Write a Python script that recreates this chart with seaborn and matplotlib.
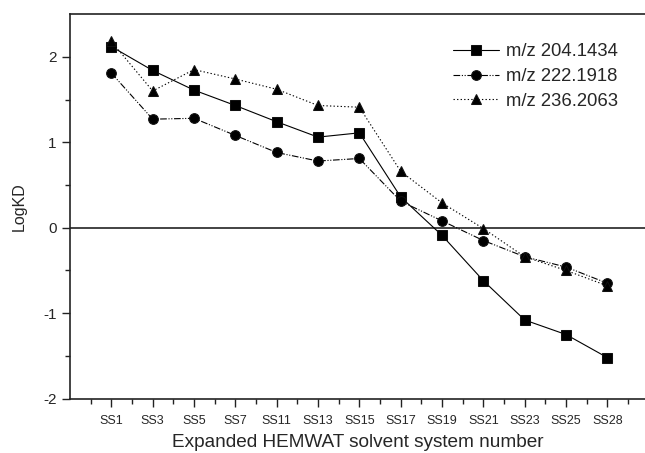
import seaborn as sns
import matplotlib.pyplot as plt
import pandas as pd

# Data
systems = ['SS1', 'SS3', 'SS5', 'SS7', 'SS11', 'SS13', 'SS15',
           'SS17', 'SS19', 'SS21', 'SS23', 'SS25', 'SS28']
mz204 = [2.12, 1.84, 1.61, 1.43, 1.24, 1.06, 1.11, 0.36, -0.09, -0.62, -1.08, -1.25, -1.52]
mz222 = [1.81, 1.27, 1.28, 1.08, 0.88, 0.78, 0.81, 0.31, 0.08, -0.15, -0.34, -0.46, -0.65]
mz236 = [2.18, 1.60, 1.85, 1.74, 1.62, 1.43, 1.41, 0.66, 0.29, -0.01, -0.34, -0.50, -0.68]

sns.set_style('ticks')
plt.rcParams['font.family'] = ['Liberation Sans', 'DejaVu Sans']
plt.rcParams['axes.unicode_minus'] = False

fig = plt.figure(figsize=(6.45, 4.53), dpi=100)
ax = fig.add_axes([0.1085, 0.12, 0.8915, 0.849])

pos = list(range(len(systems)))
series = [
    ('m/z 204.1434', mz204, 's', '-'),
    ('m/z 222.1918', mz222, 'o', (0, (6, 1.5, 1, 1.5, 1, 1.5))),
    ('m/z 236.2063', mz236, '^', (0, (1.2, 2))),
]
for label, vals, mk, ls in series:
    df = pd.DataFrame({'x': pos, 'y': vals})
    sns.lineplot(data=df, x='x', y='y', ax=ax, color='black', lw=0.8,
                 marker=mk, markersize=7, markeredgecolor='#111111',
                 linestyle=ls, label=label, sort=False)

ax.axhline(0, color='#222222', lw=1.2, zorder=0)

ax.set_xlim(-1, 12.91)
ax.set_ylim(-2, 2.5)
ax.set_xticks(pos)
ax.set_xticklabels(systems, fontsize=9)
ax.set_xticks([p + 0.5 for p in range(-1, 13)], minor=True)
ax.set_yticks([-2, -1, 0, 1, 2])
ax.set_yticks([-1.5, -0.5, 0.5, 1.5], minor=True)
ax.tick_params(axis='y', labelsize=11)
ax.tick_params(which='major', direction='out', length=6, width=1, color='#222222')
ax.tick_params(which='minor', direction='out', length=3.5, width=1, color='#222222')
ax.tick_params(axis='x', which='major', pad=6)

for s in ['left', 'bottom', 'top']:
    ax.spines[s].set_color('#222222')
    ax.spines[s].set_linewidth(1.2)
ax.spines['right'].set_visible(False)

ax.set_xlabel('Expanded HEMWAT solvent system number', fontsize=13.7, labelpad=5)
ax.set_ylabel('LogKD', fontsize=11.5, labelpad=12)

ax.legend(loc='upper left', bbox_to_anchor=(0.637, 0.967), frameon=False,
          fontsize=13.3, handlelength=2.5, handletextpad=0.4, labelspacing=0.42)

plt.savefig('out.png', dpi=100)
